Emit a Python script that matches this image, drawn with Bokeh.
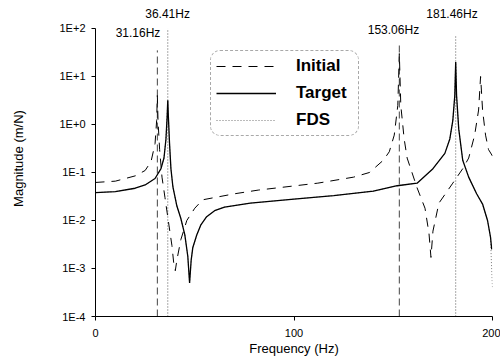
from bokeh.plotting import figure
from bokeh.models import (Range1d, FixedTicker, Legend, LegendItem, Label)
from bokeh.embed import file_html
from bokeh.resources import INLINE

# ---------------- data ----------------
freq_target = [0, 10, 20, 25, 30, 33, 34.5, 35.5, 36.1, 36.41, 36.7, 37.3, 38, 39,
               41, 43, 45, 46.5, 47.4, 48.2, 49, 51, 53, 56, 60, 65, 78, 100, 120,
               140, 152, 162, 170, 176, 178.5, 180, 181, 181.46, 181.9, 183, 185,
               188, 192, 195, 197.5, 199, 199.6]
mag_target = [0.038, 0.040, 0.047, 0.055, 0.075, 0.12, 0.2, 0.5, 1.5, 3.2, 1.5, 0.4,
              0.12, 0.05, 0.02, 0.011, 0.005, 0.0018, 0.0005, 0.0015, 0.0027, 0.005,
              0.008, 0.012, 0.016, 0.019, 0.023, 0.028, 0.033, 0.041, 0.053, 0.06,
              0.12, 0.25, 0.5, 1.2, 4.0, 20.0, 4.0, 0.8, 0.18, 0.08, 0.036, 0.022,
              0.01, 0.0045, 0.0025]

freq_initial = [0, 10, 20, 25, 28, 30, 30.8, 31.16, 31.5, 32.3, 33.5, 35, 37, 38.5,
                39.5, 40.2, 41, 43, 46, 50, 54, 70, 82, 112, 130, 138, 145, 148,
                150.5, 152.3, 153.06, 153.8, 155.5, 157, 162, 166, 168, 169, 170,
                173, 180, 185, 188, 191, 193, 194, 195, 196.5, 198, 200]
mag_initial = [0.062, 0.066, 0.085, 0.11, 0.17, 0.4, 1.2, 4.0, 1.2, 0.3, 0.08, 0.03,
               0.008, 0.003, 0.0012, 0.0009, 0.0015, 0.004, 0.01, 0.018, 0.027,
               0.036, 0.043, 0.06, 0.08, 0.1, 0.18, 0.27, 0.6, 2.5, 30.0, 2.5, 0.5,
               0.2, 0.048, 0.018, 0.0054, 0.0017, 0.006, 0.023, 0.06, 0.12, 0.2,
               0.6, 2.0, 10.0, 2.0, 0.6, 0.3, 0.22]

freq_fds = [0, 10, 20, 25, 30, 33, 34.5, 35.5, 36.1, 36.41, 36.7, 37.3, 38, 39,
            41, 43, 45, 46.5, 47.4, 48.2, 49, 51, 53, 56, 60, 65, 78, 100, 120,
            140, 152, 162, 170, 176, 178.5, 180, 181, 181.46, 181.9, 183, 185,
            188, 192, 195, 197.5, 199, 199.5, 200]
mag_fds = [0.038, 0.040, 0.047, 0.055, 0.075, 0.12, 0.2, 0.5, 1.5, 3.2, 1.5, 0.4,
           0.12, 0.05, 0.02, 0.011, 0.005, 0.0018, 0.0005, 0.0015, 0.0027, 0.005,
           0.008, 0.012, 0.016, 0.019, 0.023, 0.028, 0.033, 0.041, 0.053, 0.06,
           0.12, 0.25, 0.5, 1.2, 4.0, 20.0, 4.0, 0.8, 0.18, 0.08, 0.036, 0.022,
           0.01, 0.0045, 0.0012, 0.0004]

# resonance markers
mark_freq_dashed = [31.16, 153.06]
mark_top_dashed = [35.0, 51.0]
mark_freq_dotted = [36.41, 181.46]
mark_top_dotted = [100.0, 71.0]
mark_bottom = 1e-4

mark_labels = ["31.16Hz", "36.41Hz", "153.06Hz", "181.46Hz"]
mark_label_x = [21.4, 36.3, 150.1, 179.6]
mark_label_y = [79.0, 200.0, 95.0, 200.0]

x_ticks = [0, 100, 200]
x_tick_labels = ["0", "100", "200"]
y_ticks = [1e-4, 1e-3, 1e-2, 1e-1, 1e0, 1e1, 1e2]
y_tick_labels = ["1E-4", "1E-3", "1E-2", "1E-1", "1E+0", "1E+1", "1E+2"]

FONT = "Liberation Sans"

p = figure(width=500, height=359, output_backend="svg", toolbar_location=None,
           x_range=Range1d(0, 200), y_range=Range1d(1e-4, 383.0),
           y_axis_type="log", min_border_left=95, min_border_right=8,
           min_border_top=0, min_border_bottom=43)
p.outline_line_color = None
p.xgrid.visible = False
p.ygrid.visible = False
p.background_fill_color = "white"
p.border_fill_color = "white"

# axes
for ax in (p.xaxis[0], p.yaxis[0]):
    ax.axis_line_color = "black"
    ax.axis_line_width = 1
    ax.major_tick_line_color = "black"
    ax.minor_tick_line_color = None
    ax.major_tick_in = 0
    ax.major_tick_out = 4
    ax.major_label_text_font = FONT
    ax.major_label_text_font_size = "11px"
    ax.major_label_text_color = "black"
    ax.axis_label_text_font = FONT
    ax.axis_label_text_font_size = "13px"
    ax.axis_label_text_font_style = "normal"
    ax.axis_label_text_color = "black"

p.xaxis.ticker = FixedTicker(ticks=x_ticks)
p.xaxis.major_label_overrides = {float(t): l for t, l in zip(x_ticks, x_tick_labels)}
p.xaxis.axis_label = "Frequency (Hz)"
p.xaxis.axis_label_standoff = 1
p.xaxis.major_label_standoff = 8

p.yaxis.ticker = FixedTicker(ticks=y_ticks)
p.yaxis.major_label_overrides = {t: l for t, l in zip(y_ticks, y_tick_labels)}
p.yaxis.axis_label = "Magnitude (m/N)"
p.yaxis.axis_label_standoff = 31
p.yaxis.major_label_standoff = 6
p.yaxis.bounds = (1e-4, 1e2)

# resonance marker lines
p.segment(x0=mark_freq_dashed, y0=[mark_bottom] * 2, x1=mark_freq_dashed,
          y1=mark_top_dashed, line_color="#444444", line_width=1, line_dash="7 4")
p.segment(x0=mark_freq_dotted, y0=[mark_bottom] * 2, x1=mark_freq_dotted,
          y1=mark_top_dotted, line_color="#555555", line_width=1, line_dash="1 2")

# curves
r_fds = p.line(freq_fds, mag_fds, line_color="#777777", line_width=1, line_dash="1 2")
r_init = p.line(freq_initial, mag_initial, line_color="black", line_width=1,
                line_dash="9 7")
r_tgt = p.line(freq_target, mag_target, line_color="black", line_width=1.3)

# labels
for txt, lx, ly in zip(mark_labels, mark_label_x, mark_label_y):
    p.add_layout(Label(x=lx, y=ly, text=txt, text_font=FONT, text_font_size="12px",
                       text_align="center", text_baseline="middle",
                       text_color="black"))

legend = Legend(items=[LegendItem(label="Initial", renderers=[r_init]),
                       LegendItem(label="Target", renderers=[r_tgt]),
                       LegendItem(label="FDS", renderers=[r_fds])],
                location=(115, 180), orientation="vertical")
legend.label_text_font = FONT
legend.label_text_font_size = "17px"
legend.label_text_font_style = "bold"
legend.label_text_color = "black"
legend.glyph_width = 60
legend.glyph_height = 20
legend.label_height = 20
legend.label_width = 57
legend.label_standoff = 20
legend.spacing = 7
legend.padding = 5
legend.margin = 0
legend.border_line_color = "#555555"
legend.border_line_width = 1
legend.border_line_dash = "6 3 1 3"
legend.background_fill_alpha = 0
if "border_radius" in legend.properties():
    legend.border_radius = 10
p.add_layout(legend, "center")

open("out.html", "w").write(file_html(p, INLINE))
